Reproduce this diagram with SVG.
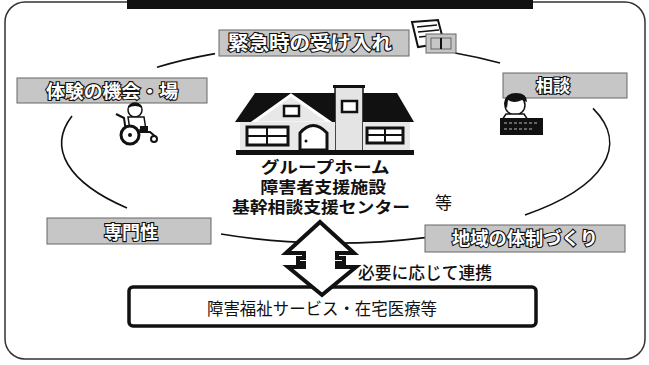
<svg xmlns="http://www.w3.org/2000/svg" width="649" height="365" viewBox="0 0 649 365">
  <style>
    .frame { fill: none; stroke: #333; stroke-width: 1.5; }
    .tag rect { fill: #c6c6c6; stroke: #666; stroke-width: 1; }
    .tag text { font-family: "Noto Sans CJK JP", "Noto Sans", sans-serif; font-weight: 700; fill: #fff; stroke: #111; stroke-width: 2.2; paint-order: stroke; }
    .center text { font-family: "Noto Sans CJK JP", "Noto Sans", sans-serif; font-weight: 700; fill: #111; text-anchor: middle; }
    .arc { fill: none; stroke: #111; stroke-width: 1.6; }
    .plain { font-family: "Noto Sans CJK JP", "Noto Sans", sans-serif; fill: #111; }
    .ink { fill: #111; }
    .pale { fill: #fff; stroke: #111; stroke-width: 1.5; }
  </style>

  <rect width="649" height="365" fill="#fff"/>

  <!-- outer panel and title bar -->
  <rect class="frame" x="5" y="2" width="640" height="357" rx="20"/>
  <rect x="127" y="0" width="406" height="9" fill="#111"/>

  <!-- ring of arcs -->
  <g id="connectors">
    <path class="arc" d="M157,67.3 A274,100 0 0 1 215,53.6"/>
    <path class="arc" d="M455,53 A274,100 0 0 1 500,63"/>
    <path class="arc" d="M593,108.4 A274,100 0 0 1 525,215"/>
    <path class="arc" d="M425,237.6 A274,100 0 0 1 221,234"/>
    <path class="arc" d="M127,208 A274,100 0 0 1 72,116"/>
  </g>

  <!-- emergency acceptance -->
  <g id="node-emergency" class="tag">
    <rect x="219" y="30" width="190" height="26"/>
    <text x="228" y="50" font-size="19" textLength="164" lengthAdjust="spacingAndGlyphs">緊急時の受け入れ</text>
    <g transform="translate(408,19)">
      <path d="M4,3 L30,1 L36,24 L10,28 Z" fill="#fff" stroke="#111" stroke-width="2"/>
      <path d="M9,8 L29,6 M10,13 L31,11 M11,18 L32,16" stroke="#111" stroke-width="1.3"/>
      <rect x="18" y="15" width="30" height="19" fill="#fff" stroke="#111" stroke-width="2"/>
      <rect x="23" y="19" width="20" height="11" fill="none" stroke="#111" stroke-width="2.5"/>
      <path d="M33,19 V30" stroke="#111" stroke-width="2"/>
    </g>
  </g>

  <!-- experience -->
  <g id="node-experience" class="tag">
    <rect x="17" y="78" width="190" height="25"/>
    <text x="46" y="98" font-size="18" textLength="132" lengthAdjust="spacingAndGlyphs">体験の機会・場</text>
  </g>

  <!-- wheelchair figure -->
  <g id="icon-wheelchair">
    <circle class="pale" cx="135" cy="110" r="7"/>
    <path class="ink" d="M128,106 Q135,100 142,106 L142,108 Q135,104 128,108 Z"/>
    <path class="pale" d="M128,117 L144,117 L146,130 L130,130 Z"/>
    <path d="M116,114 L124,118 L126,132 L150,132 L156,137" fill="none" stroke="#111" stroke-width="2"/>
    <circle cx="130" cy="135" r="9" fill="#fff" stroke="#111" stroke-width="3"/>
    <circle cx="130" cy="135" r="2" class="ink"/>
    <circle cx="154" cy="139" r="3" fill="#fff" stroke="#111" stroke-width="2"/>
    <rect x="140" y="126" width="8" height="6" class="ink"/>
  </g>

  <!-- consultation -->
  <g id="node-consult" class="tag">
    <rect x="503" y="73" width="124" height="25"/>
    <text x="536" y="92" font-size="17">相談</text>
  </g>

  <!-- person at desk -->
  <g id="icon-desk">
    <circle class="pale" cx="515" cy="105" r="10"/>
    <path class="ink" d="M504,104 Q505,93 516,93 Q527,93 527,102 L522,100 Q514,104 508,100 L507,108 Z"/>
    <path class="pale" d="M506,114 L524,114 L528,120 L502,120 Z"/>
    <rect x="500" y="118" width="43" height="17" class="ink"/>
    <path d="M504,123 H538 M504,129 H532" stroke="#bbb" stroke-width="1.2" stroke-dasharray="3 2"/>
  </g>

  <!-- expertise -->
  <g id="node-expertise" class="tag">
    <rect x="47" y="218" width="164" height="26"/>
    <text x="104" y="239" font-size="18">専門性</text>
  </g>

  <!-- community system -->
  <g id="node-community" class="tag">
    <rect x="425" y="225" width="200" height="27"/>
    <text x="452" y="245" font-size="18" textLength="146" lengthAdjust="spacingAndGlyphs">地域の体制づくり</text>
  </g>

  <!-- central facility -->
  <g id="node-center" class="center">
    <g id="house">
      <!-- chimney -->
      <rect x="335" y="86" width="28" height="66" fill="#e4e4e4" stroke="#111" stroke-width="1.5"/>
      <rect x="333" y="85" width="32" height="3" class="ink"/>
      <rect x="342" y="101" width="15" height="11" fill="#fff" stroke="#111" stroke-width="2.5"/>
      <!-- roof -->
      <path class="ink" d="M255,93 L335,93 L335,122 L235,122 Z"/>
      <path class="ink" d="M363,93 L397,93 L414,122 L363,122 Z"/>
      <!-- gable -->
      <path d="M252,123 L291,95 L331,123 Z" fill="#e8e8e8" stroke="#fff" stroke-width="3"/>
      <rect x="284" y="106" width="15" height="10" fill="#fff" stroke="#111" stroke-width="2.5"/>
      <!-- body -->
      <rect x="240" y="122" width="95" height="29" fill="#e8e8e8"/>
      <rect x="363" y="122" width="47" height="29" fill="#e8e8e8"/>
      <rect x="247" y="127" width="41" height="18" fill="#fff" stroke="#111" stroke-width="3"/>
      <path d="M247,136 H288 M267,127 V145" stroke="#111" stroke-width="2"/>
      <path d="M300,150 V133 Q313,118 327,133 V150 Z" fill="#fff" stroke="#111" stroke-width="3"/>
      <circle cx="306" cy="141" r="1.5" class="ink"/>
      <rect x="367" y="128" width="36" height="15" fill="#fff" stroke="#111" stroke-width="3"/>
      <path d="M367,135 H403 M385,128 V143" stroke="#111" stroke-width="2"/>
      <rect x="236" y="150" width="178" height="5" class="ink"/>
    </g>
    <text font-size="16">
      <tspan x="327" y="173" textLength="129" lengthAdjust="spacingAndGlyphs">グループホーム</tspan>
      <tspan x="325" y="193" textLength="126" lengthAdjust="spacingAndGlyphs">障害者支援施設</tspan>
      <tspan x="321" y="213" textLength="178" lengthAdjust="spacingAndGlyphs">基幹相談支援センター</tspan>
    </text>
  </g>
  <text class="plain" x="435" y="209" font-size="17">等</text>

  <!-- services box -->
  <g id="node-services">
    <rect x="129" y="287" width="407" height="39" rx="4" fill="#fff" stroke="#111" stroke-width="3.5"/>
    <text class="plain" x="207" y="315" font-size="16.5" textLength="230" lengthAdjust="spacingAndGlyphs">障害福祉サービス・在宅医療等</text>
  </g>

  <!-- two-way link between the centre and the services box -->
  <g id="link-arrow">
    <polygon points="320,222 354,253 337,253 337,258 344,258 344,263 337,263 337,267 356,267 322,295 288,267 304,267 304,263 298,263 298,258 304,258 304,253 286,253" fill="#fff" stroke="#111" stroke-width="4" stroke-linejoin="miter"/>
  </g>
  <text class="plain" x="358" y="279" font-size="17" font-weight="500" textLength="134" lengthAdjust="spacingAndGlyphs">必要に応じて連携</text>
</svg>
